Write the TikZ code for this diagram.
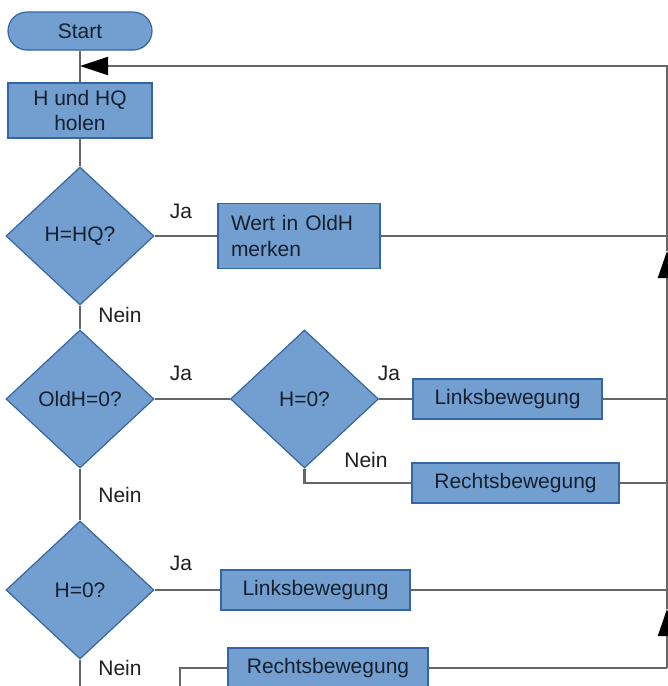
\documentclass[tikz,border=0pt]{standalone}
\usepackage{fontspec}
\setmainfont{Liberation Sans}
\usetikzlibrary{shapes.geometric,arrows.meta}
\definecolor{boxfill}{HTML}{729FCF}
\definecolor{boxline}{HTML}{3465A4}
\definecolor{conn}{HTML}{666666}
\definecolor{txt}{HTML}{16202E}
\tikzset{
  base/.style={draw=boxline, fill=boxfill, line width=1.2pt, text=txt, inner sep=0pt, font=\fontsize{21}{25.5}\selectfont},
  procbox/.style={base, rectangle, minimum height=40pt},
  decision/.style={base, diamond, minimum width=148pt, minimum height=138pt},
  termbox/.style={base, rectangle, rounded corners=19pt, minimum width=144pt, minimum height=38pt},
  conn/.style={draw=conn, line width=2.2pt},
  lbl/.style={font=\fontsize{21}{25}\selectfont, text=black!88, inner sep=0pt}
}
\begin{document}
\begin{tikzpicture}[x=1pt,y=-1pt]
\useasboundingbox (0,0) rectangle (668,686);
\fill[white] (0,0) rectangle (668,686);

% nodes
\node[termbox] (start) at (80,31) {Start};
\node[procbox, minimum width=144pt, minimum height=55pt, align=center] (hq) at (80,110.5) {H und HQ\\holen};
\node[decision] (d1) at (80,236) {H=HQ?};
\node[procbox, minimum width=162pt, minimum height=65pt, align=left, text width=136pt] (wert) at (299,236) {Wert in OldH\\merken};
\node[decision] (d2) at (80,399) {OldH=0?};
\node[decision] (d3) at (304.5,399) {H=0?};
\node[procbox, minimum width=189pt] (lb1) at (507.5,399) {Linksbewegung};
\node[procbox, minimum width=207pt] (rb1) at (515.5,483) {Rechtsbewegung};
\node[decision] (d4) at (80,590) {H=0?};
\node[procbox, minimum width=189pt] (lb2) at (315.5,590) {Linksbewegung};
\node[procbox, minimum width=200pt] (rb2) at (328,668) {Rechtsbewegung};

% coordinates for the return line
\coordinate (rbot) at (667,668);
\coordinate (ra) at (667,609);
\coordinate (rb) at (667,251);
\coordinate (rtop) at (667,66);
\coordinate (jtop) at (80,66);
\coordinate (m1) at (667,236);
\coordinate (m2) at (667,399);
\coordinate (m3) at (667,483);
\coordinate (m4) at (667,590);
\coordinate (bl) at (80,686);
\coordinate (bl2) at (180,686);

% connectors
\draw[conn] (start) -- (hq);
\draw[conn] (hq) -- (d1);
\draw[conn] (d1.east) -- (wert.west);
\draw[conn] (wert.east) -- (m1);
\draw[conn] (d1) -- (d2);
\draw[conn] (d2.east) -- (d3.west);
\draw[conn] (d3.east) -- (lb1.west);
\draw[conn] (d3.south) |- (rb1.west);
\draw[conn] (lb1.east) -- (m2);
\draw[conn] (rb1.east) -- (m3);
\draw[conn] (d2) -- (d4);
\draw[conn] (d4.east) -- (lb2.west);
\draw[conn] (lb2.east) -- (m4);
\draw[conn] (d4.south) -- (bl);
\draw[conn] (bl2) |- (rb2.west);
\draw[conn] (rb2.east) -- (rbot);

\draw[conn, -{Triangle[length=27pt,width=18pt,color=black]}] (rbot) -- (ra);
\draw[conn, -{Triangle[length=27pt,width=18pt,color=black]}] (ra) -- (rb);
\draw[conn, -{Triangle[length=28pt,width=18pt,color=black]}] (rb) -- (rtop) -- (jtop);

% labels
\node[lbl] (j1) at (181,211) {Ja};
\node[lbl] (n1) at (120,315) {Nein};
\node[lbl] (j2) at (181,373) {Ja};
\node[lbl] (j3) at (389,373) {Ja};
\node[lbl] (n3) at (366,460) {Nein};
\node[lbl] (n2) at (120,495) {Nein};
\node[lbl] (j4) at (181,563) {Ja};
\node[lbl] (n4) at (120,668) {Nein};
\end{tikzpicture}
\end{document}
